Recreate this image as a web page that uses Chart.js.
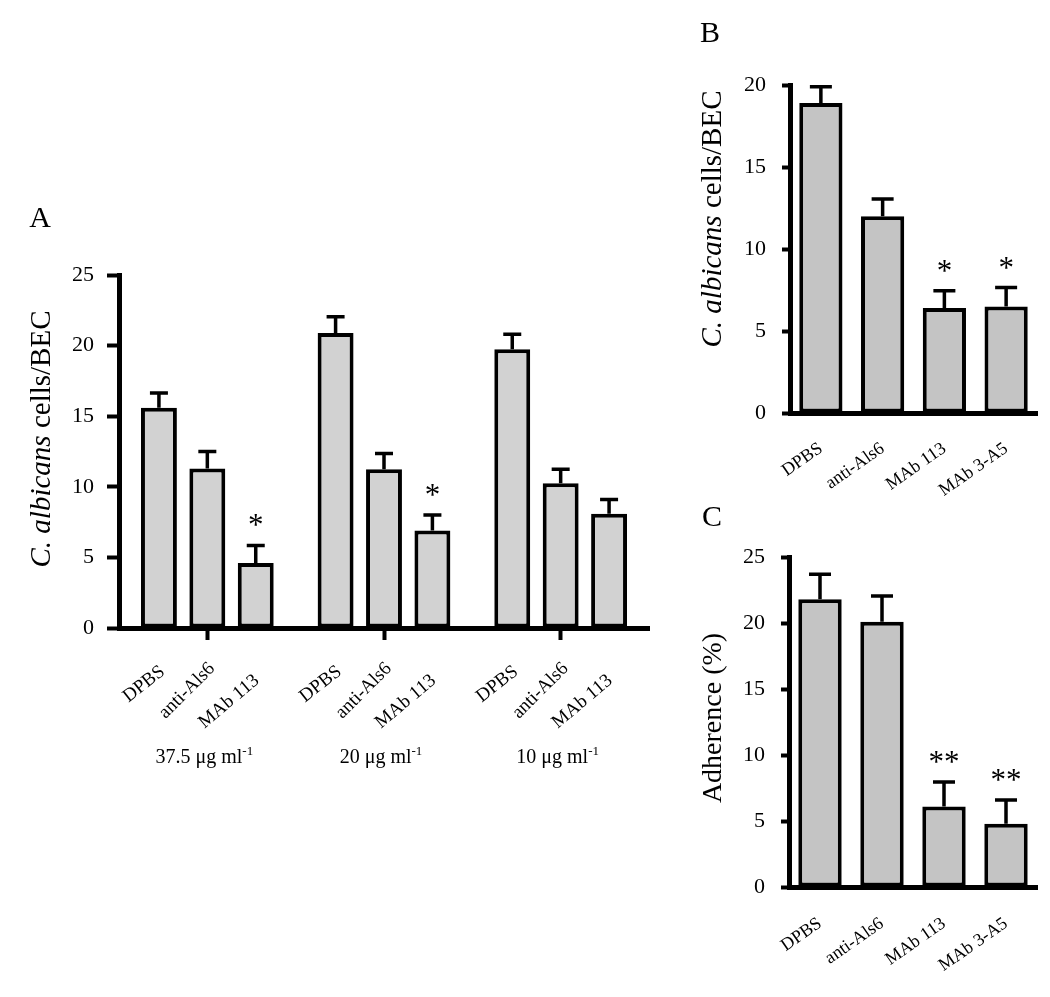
<!DOCTYPE html>
<html><head><meta charset="utf-8">
<script src="https://cdn.jsdelivr.net/npm/chart.js@4.4.1/dist/chart.umd.min.js"></script>
<style>
html,body{margin:0;padding:0;background:#fff;}
body{width:1050px;height:997px;position:relative;overflow:hidden;}
.box{position:absolute;}
canvas{display:block;}
</style></head><body>
<div class="box" style="left:0;top:180px;"><canvas id="cA" width="660" height="620"></canvas></div>
<div class="box" style="left:650px;top:0;"><canvas id="cB" width="400" height="520"></canvas></div>
<div class="box" style="left:650px;top:480px;"><canvas id="cC" width="400" height="517"></canvas></div>
<script>
// ---------- DATA ----------
// Panel A
const concValuesA = ['37.5', '20', '10'];
const concUnitA = 'μg ml';
const concSupA = '-1';
const treatmentsA = ['DPBS', 'anti-Als6', 'MAb 113'];
const dpbsA = [15.6, 20.9, 19.75];
const antiAls6A = [11.3, 11.25, 10.25];
const mab113A = [4.6, 6.9, 8.1];
const errDpbsA = [1.05, 1.15, 1.05];
const errAntiAls6A = [1.2, 1.1, 1.0];
const errMab113A = [1.25, 1.1, 1.0];
const sigDpbsA = ['', '', ''];
const sigAntiAls6A = ['', '', ''];
const sigMab113A = ['*', '*', ''];
const yTicksA = [0, 5, 10, 15, 20, 25];
// Panel B
const labelsB = ['DPBS', 'anti-Als6', 'MAb 113', 'MAb 3-A5'];
const valuesB = [18.9, 12.0, 6.4, 6.5];
const errB = [1.0, 1.05, 1.05, 1.15];
const sigB = ['', '', '*', '*'];
const yTicksB = [0, 5, 10, 15, 20];
// Panel C
const labelsC = ['DPBS', 'anti-Als6', 'MAb 113', 'MAb 3-A5'];
const valuesC = [21.8, 20.1, 6.1, 4.8];
const errC = [1.9, 1.95, 1.85, 1.8];
const sigC = ['', '', '**', '**'];
const yTicksC = [0, 5, 10, 15, 20, 25];

// ---------- STYLE ----------
const SERIF = "'Liberation Serif', 'Times New Roman', serif";
const FILL_A = '#d2d2d2';
const FILL_BC = '#c4c4c4';

Chart.defaults.font.family = SERIF;
Chart.defaults.color = '#000';

const errorBarPlugin = {
  id: 'errbars',
  afterDatasetsDraw(chart, args, opts) {
    const ctx = chart.ctx, y = chart.scales.y;
    chart.data.datasets.forEach((ds, di) => {
      const meta = chart.getDatasetMeta(di);
      meta.data.forEach((bar, i) => {
        const v = ds.data[i], e = ds.errors[i];
        const yTop = y.getPixelForValue(v + e);
        ctx.save();
        ctx.strokeStyle = '#000';
        ctx.lineWidth = opts.lineWidth;
        ctx.beginPath();
        ctx.moveTo(bar.x, bar.y);
        ctx.lineTo(bar.x, yTop);
        ctx.moveTo(bar.x - opts.cap / 2, yTop);
        ctx.lineTo(bar.x + opts.cap / 2, yTop);
        ctx.stroke();
        const m = ds.marks && ds.marks[i];
        if (m) {
          ctx.fillStyle = '#000';
          ctx.font = opts.markFont;
          ctx.textAlign = 'center';
          ctx.textBaseline = 'alphabetic';
          const mt = ctx.measureText(m);
          const cy = yTop - opts.markGap;
          ctx.fillText(m, bar.x, cy + (mt.actualBoundingBoxAscent - mt.actualBoundingBoxDescent) / 2);
        }
        ctx.restore();
      });
    });
  }
};

function drawYTitle(ctx, parts, cx, cy, size) {
  ctx.save();
  ctx.fillStyle = '#000';
  let total = 0;
  const widths = parts.map(p => {
    ctx.font = (p.italic ? 'italic ' : '') + size + 'px ' + SERIF;
    const w = ctx.measureText(p.text).width; total += w; return w;
  });
  ctx.translate(cx, cy);
  ctx.rotate(-Math.PI / 2);
  ctx.textAlign = 'left';
  ctx.textBaseline = 'middle';
  let x = -total / 2;
  parts.forEach((p, i) => {
    ctx.font = (p.italic ? 'italic ' : '') + size + 'px ' + SERIF;
    ctx.fillText(p.text, x, 0);
    x += widths[i];
  });
  ctx.restore();
}

function drawLetter(ctx, t, cx, cy) {
  ctx.save();
  ctx.fillStyle = '#000';
  ctx.font = '30px ' + SERIF;
  ctx.textAlign = 'center';
  ctx.textBaseline = 'alphabetic';
  const mt = ctx.measureText(t);
  ctx.fillText(t, cx, cy + (mt.actualBoundingBoxAscent - mt.actualBoundingBoxDescent) / 2);
  ctx.restore();
}

const titleAlbicans = [{text: 'C. albicans', italic: true}, {text: ' cells/BEC', italic: false}];

// ---------- PANEL A ----------
const aLabelStyle = {angle: [-38, -45, -40], font: '19px ' + SERIF, dx: [-2, -2, -5], dy: [34, 31, 43]};
const decorA = {
  id: 'decorA',
  afterDraw(chart) {
    const ctx = chart.ctx;
    const axisY = chart.scales.y.getPixelForValue(0);
    // per-bar rotated labels
    chart.data.datasets.forEach((ds, di) => {
      chart.getDatasetMeta(di).data.forEach(bar => {
        ctx.save();
        ctx.fillStyle = '#000';
        ctx.font = aLabelStyle.font;
        ctx.translate(bar.x + aLabelStyle.dx[di], axisY + aLabelStyle.dy[di]);
        ctx.rotate(aLabelStyle.angle[di] * Math.PI / 180);
        ctx.textAlign = 'right';
        ctx.textBaseline = 'top';
        ctx.fillText(ds.label, 0, 0);
        ctx.restore();
      });
    });
    // group labels with superscript
    const xs = chart.scales.x;
    concValuesA.forEach((c, i) => {
      const gx = xs.getPixelForValue(i) - 3;
      const main = c + ' ' + concUnitA;
      ctx.save();
      ctx.fillStyle = '#000';
      ctx.font = '20px ' + SERIF;
      const w1 = ctx.measureText(main).width;
      ctx.font = '13px ' + SERIF;
      const w2 = ctx.measureText(concSupA).width;
      const x0 = gx - (w1 + w2) / 2;
      const base = axisY + 135;
      ctx.textAlign = 'left';
      ctx.textBaseline = 'alphabetic';
      ctx.font = '20px ' + SERIF;
      ctx.fillText(main, x0, base);
      ctx.font = '13px ' + SERIF;
      ctx.fillText(concSupA, x0 + w1, base - 8);
      ctx.restore();
    });
    drawYTitle(ctx, titleAlbicans, 42, 259, 29);
    drawLetter(ctx, 'A', 40, 37);
  }
};

const barCommonA = {borderColor: '#000', borderWidth: 4, borderSkipped: false, backgroundColor: FILL_A,
  categoryPercentage: 0.822, barPercentage: 0.742};

new Chart(document.getElementById('cA'), {
  type: 'bar',
  data: {
    labels: concValuesA.map(c => c + ' ' + concUnitA + concSupA),
    datasets: [
      Object.assign({label: treatmentsA[0], data: dpbsA, errors: errDpbsA, marks: sigDpbsA}, barCommonA),
      Object.assign({label: treatmentsA[1], data: antiAls6A, errors: errAntiAls6A, marks: sigAntiAls6A}, barCommonA),
      Object.assign({label: treatmentsA[2], data: mab113A, errors: errMab113A, marks: sigMab113A}, barCommonA)
    ]
  },
  options: {
    responsive: false, animation: false,
    layout: {padding: {left: 0, top: 95, right: 11, bottom: 0}},
    plugins: {legend: {display: false}, tooltip: {enabled: false},
      errbars: {lineWidth: 3.5, cap: 18, markFont: '31px ' + SERIF, markGap: 25}},
    scales: {
      x: {
        offset: true,
        grid: {display: true, drawOnChartArea: false, drawTicks: true, tickLength: 12, tickWidth: 4, tickColor: '#000', offset: false},
        border: {display: true, color: '#000', width: 5},
        ticks: {display: false},
        afterFit(s) { s.height = 620 - 448; }
      },
      y: {
        min: 0, max: 25,
        afterBuildTicks(s) { s.ticks = yTicksA.map(v => ({value: v})); },
        ticks: {font: {size: 22, family: SERIF}, color: '#000', padding: 13},
        grid: {drawOnChartArea: false, drawTicks: true, tickLength: 12, tickWidth: 4, tickColor: '#000'},
        border: {display: true, color: '#000', width: 5},
        afterFit(s) { s.width = 119; }
      }
    }
  },
  plugins: [errorBarPlugin, decorA]
});

// ---------- PANELS B & C ----------
function makeSmall(id, labels, values, errs, marks, yMax, yTicks, area, canvasH, decor) {
  return new Chart(document.getElementById(id), {
    type: 'bar',
    data: {
      labels: labels,
      datasets: [{label: 'value', data: values, errors: errs, marks: marks,
        backgroundColor: FILL_BC, borderColor: '#000', borderWidth: 4, borderSkipped: false,
        categoryPercentage: 1.0, barPercentage: 0.7}]
    },
    options: {
      responsive: false, animation: false,
      layout: {padding: {left: 0, top: area.top, right: 400 - area.right, bottom: 0}},
      plugins: {legend: {display: false}, tooltip: {enabled: false},
        errbars: {lineWidth: 3.5, cap: 22, markFont: '31px ' + SERIF, markGap: 25}},
      scales: {
        x: {
          offset: true,
          grid: {display: false},
          border: {display: true, color: '#000', width: 5},
          ticks: {font: {size: 18, family: SERIF}, color: '#000', minRotation: 35, maxRotation: 35, autoSkip: false, padding: area.labelPad},
          afterFit(s) { s.height = canvasH - area.bottom; }
        },
        y: {
          min: 0, max: yMax,
          afterBuildTicks(s) { s.ticks = yTicks.map(v => ({value: v})); },
          ticks: {font: {size: 22, family: SERIF}, color: '#000', padding: 16},
          grid: {drawOnChartArea: false, drawTicks: true, tickLength: 8, tickWidth: 4, tickColor: '#000'},
          border: {display: true, color: '#000', width: 5},
          afterFit(s) { s.width = area.left; }
        }
      }
    },
    plugins: [errorBarPlugin, decor]
  });
}

makeSmall('cB', labelsB, valuesB, errB, sigB, 20, yTicksB,
  {left: 140, top: 85, right: 387, bottom: 413, labelPad: 17}, 520,
  {id: 'decorB', afterDraw(chart) {
    drawYTitle(chart.ctx, titleAlbicans, 63, 219, 29);
    drawLetter(chart.ctx, 'B', 60, 32);
  }});

makeSmall('cC', labelsC, valuesC, errC, sigC, 25, yTicksC,
  {left: 139, top: 77, right: 387, bottom: 407, labelPad: 18}, 517,
  {id: 'decorC', afterDraw(chart) {
    drawYTitle(chart.ctx, [{text: 'Adherence (%)', italic: false}], 64, 238, 28);
    drawLetter(chart.ctx, 'C', 62, 36);
  }});
</script>
</body></html>
